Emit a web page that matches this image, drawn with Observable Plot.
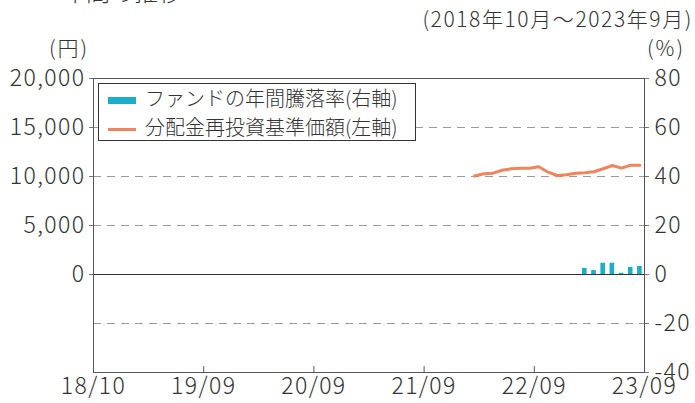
<!DOCTYPE html>
<html><head><meta charset="utf-8">
<script src="https://cdn.jsdelivr.net/npm/d3@7"></script>
<script src="https://cdn.jsdelivr.net/npm/@observablehq/plot@0.6"></script>
<style>
body{margin:0;background:#fff;}
#wrap{position:relative;width:695px;height:403px;overflow:hidden;font-family:"Noto Sans CJK JP","Noto Sans",sans-serif;color:#333;font-weight:300;}
#chart{position:absolute;left:0;top:0;}
#chart svg g[aria-label$="tick label"] text{letter-spacing:1.4px;}
.t{position:absolute;white-space:nowrap;font-size:21px;line-height:1;}
#legend{position:absolute;left:98px;top:83px;width:316px;height:56px;border:1px solid #333;background:#fff;}
.li{position:absolute;left:9px;white-space:nowrap;font-size:20px;line-height:1;}
.sw{display:inline-block;width:28px;margin-right:9px;vertical-align:middle;}
</style></head><body>
<div id="wrap">
  <div id="chart"></div>
  <div class="t" style="left:62px;top:-21px;font-size:24px">年間の推移</div>
  <div class="t" style="right:2px;top:8px;letter-spacing:1.6px">(2018年10月～2023年9月)</div>
  <div class="t" style="left:49px;top:37px;letter-spacing:2px">(円)</div>
  <div class="t" style="left:647px;top:37px;letter-spacing:2px">(%)</div>
  <div id="legend"></div>
</div>
<script>
// ---- data ----
const navMonths = ["22/03","22/04","22/05","22/06","22/07","22/08","22/09","22/10","22/11","22/12","23/01","23/02","23/03","23/04","23/05","23/06","23/07","23/08","23/09"];
const navValues = [10050,10280,10340,10640,10790,10850,10850,10990,10440,10100,10170,10340,10380,10480,10790,11120,10850,11160,11160];
const retMonths = ["23/03","23/04","23/05","23/06","23/07","23/08","23/09"];
const retValues = [2.5,1.6,4.6,4.6,0.5,2.9,3.3];
const xTickLabels = ["18/10","19/09","20/09","21/09","22/09","23/09"];
const leftTicks = [0,5000,10000,15000,20000];
const rightTicks = [-40,-20,0,20,40,60,80];
const gridPct = [60,40,20,-20];
const yenPerPct = 250; // 20,000円 ↔ 80%
const seriesNames = ["ファンドの年間騰落率(右軸)","分配金再投資基準価額(左軸)"];
const colors = {bar:"#1aafc6", line:"#f0845c"};

const monthIndex = s => { const [yy, mm] = s.split("/").map(Number); return (yy - 18) * 12 + (mm - 10); };
const xTickPos = xTickLabels.map((s, i) => i === 0 ? monthIndex(s) : monthIndex(s) + 1);
const xLabelAt = new Map(xTickPos.map((p, i) => [p, xTickLabels[i]]));

const nav = navMonths.map((m, i) => ({m, v: navValues[i]}));
const ret = retMonths.map((m, i) => ({m, v: retValues[i]}));

const tickShape = {draw(ctx, l) { ctx.moveTo(0, 0); ctx.lineTo(0, -l); }};
const font = '"Noto Sans CJK JP","Noto Sans",sans-serif';
const axisText = {fontSize: 23, fontFamily: font, fontWeight: 300};

const chart = Plot.plot({
  width: 695, height: 403,
  marginLeft: 93, marginRight: 51, marginTop: 78, marginBottom: 31,
  x: {domain: [0, 60]},
  y: {domain: [-40, 80]},
  style: {fontFamily: font, fontSize: "23px", color: "#333", background: "transparent", fontWeight: 300},
  marks: [
    Plot.ruleY(gridPct, {stroke: "#9a9a9a", strokeDasharray: "8,6", strokeWidth: 1}),
    Plot.rectY(ret, {x1: d => monthIndex(d.m) + 0.25, x2: d => monthIndex(d.m) + 0.75, y1: 0, y2: "v", fill: colors.bar}),
    Plot.ruleY([0], {stroke: "#333", strokeWidth: 1}),
    Plot.line(nav, {x: d => monthIndex(d.m) + 0.5, y: d => d.v / yenPerPct, stroke: colors.line, strokeWidth: 3}),
    Plot.frame({stroke: "#555"}),
    Plot.axisY(leftTicks.map(v => v / yenPerPct), {anchor: "left", label: null, tickFormat: d => d3.format(",")(Math.round(d * yenPerPct)), tickSize: 4, tickPadding: 4, stroke: "#777", ...axisText}),
    Plot.axisY(rightTicks, {anchor: "right", label: null, tickFormat: d => String(d), tickSize: 4, tickPadding: 6, stroke: "#777", ...axisText}),
    Plot.axisX(xTickPos, {anchor: "bottom", label: null, tickSize: 0, tickPadding: 5, tickFormat: d => xLabelAt.get(d), ...axisText}),
    Plot.vector(xTickPos.slice(1, -1), {x: d => d, y: -40, length: 6, anchor: "start", shape: tickShape, stroke: "#555", strokeWidth: 1})
  ]
});
document.getElementById("chart").appendChild(chart);

// legend
const lg = document.getElementById("legend");
seriesNames.forEach((name, i) => {
  const row = document.createElement("div");
  row.className = "li";
  row.style.top = (i === 0 ? 4 : 33) + "px";
  const sw = document.createElement("span");
  sw.className = "sw";
  sw.style.height = i === 0 ? "7px" : "3px";
  sw.style.background = i === 0 ? colors.bar : colors.line;
  row.appendChild(sw);
  row.appendChild(document.createTextNode(name));
  lg.appendChild(row);
});
</script>
</body></html>
